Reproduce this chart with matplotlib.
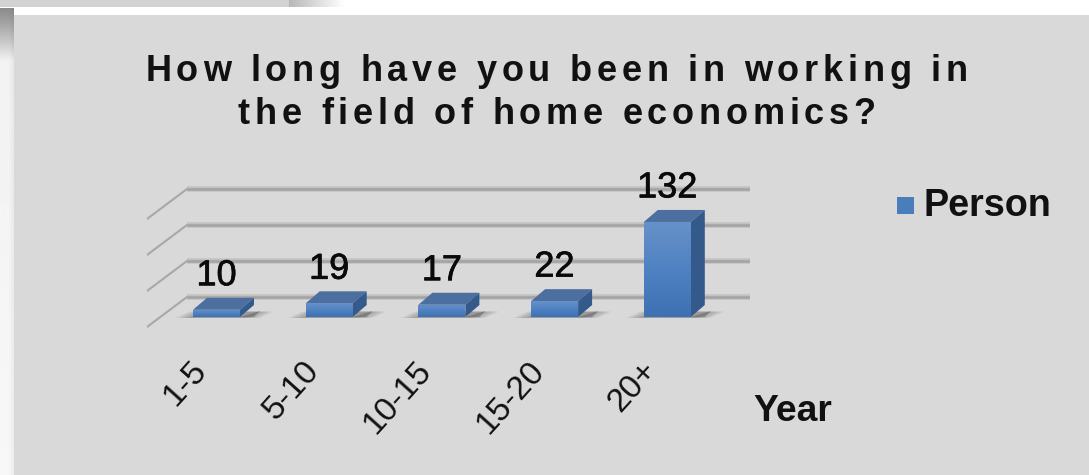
import numpy as np
import matplotlib
matplotlib.use('Agg')
import matplotlib.pyplot as plt
import matplotlib.patheffects as pe
from matplotlib.patches import Polygon, Rectangle
from matplotlib.transforms import ScaledTranslation

plt.rcParams['font.family'] = ['Liberation Sans', 'DejaVu Sans']

categories = ['1-5', '5-10', '10-15', '15-20', '20+']
persons = [10, 19, 17, 22, 132]
grid_values = [0, 50, 100, 150]
title_lines = ['How long have you been in working in', 'the field of home economics?']

W, H = 1089, 475
fig = plt.figure(figsize=(W / 100, H / 100), dpi=100, facecolor='white')

# page furniture in pixel coords
bg = fig.add_axes([0, 0, 1, 1])
bg.set_xlim(0, W)
bg.set_ylim(H, 0)
bg.axis('off')
bg.add_patch(Rectangle((14, 15), W - 14, H - 15, fc='#d9d9d9', ec='none'))
bg.add_patch(Rectangle((0, 0), 289, 7, fc='#d2d2d2', ec='none'))
top_fade = np.linspace(0.72, 1, 64).reshape(1, -1)
bg.imshow(top_fade, extent=(289, 345, 7, 0), cmap='gray', vmin=0, vmax=1, aspect='auto')
rows = np.interp(np.linspace(8, 475, 234), [8, 25, 45, 60, 475], [0.55, 0.66, 0.82, 0.95, 0.97])
cols = np.interp(np.linspace(0, 14, 15), [0, 9, 14], [1.0, 1.0, 0.955])
bg.imshow(np.outer(rows, cols), extent=(0, 14, 475, 8), cmap='gray', vmin=0, vmax=1, aspect='auto')
bg.set_xlim(0, W)
bg.set_ylim(H, 0)


def spaced_text(line, y, size, gap):
    # matplotlib has no letter spacing, so place the characters one at a time
    r = fig.canvas.get_renderer()
    widths = []
    for i in range(len(line)):
        t = bg.text(0, 0, line[:i + 1] + '|', fontsize=size, fontweight='bold')
        widths.append(t.get_window_extent(r).width)
        t.remove()
    t = bg.text(0, 0, '|', fontsize=size, fontweight='bold')
    bar_w = t.get_window_extent(r).width
    t.remove()
    ends = [w - bar_w for w in widths]
    total = ends[-1] + gap * (len(line) - 1)
    x0 = 556.5 - total / 2
    for i, ch in enumerate(line):
        start = ends[i - 1] if i else 0
        bg.text(x0 + start + gap * i, y, ch, fontsize=size, fontweight='bold',
                color='#111111', ha='left', va='baseline')


spaced_text(title_lines[0], 81, 26, 4.75)
spaced_text(title_lines[1], 124, 26, 4.75)

bg.add_patch(Rectangle((897, 197), 17, 17, fc='#4a7ebb', ec='none'))
bg.text(923, 216, 'Person', fontsize=27.2, fontweight='bold', color='#111111', ha='left', va='baseline')
bg.text(753, 421, 'Year', fontsize=26.8, fontweight='bold', color='#111111', ha='left', va='baseline')

# chart axes, 3d look is faked with offsets from the front faces
px_left, px_right, px_top, px_bottom = 147, 750, 170, 340
ax = fig.add_axes([px_left / W, 1 - px_bottom / H, (px_right - px_left) / W, (px_bottom - px_top) / H])
ax.patch.set_alpha(0)
step = 112.7
per_value = 0.72
xlim = ((px_left - 216.5) / step, (px_right - 216.5) / step)
ylim = ((317 - px_bottom) / per_value, (317 - px_top) / per_value)
x = np.arange(len(categories))
bar_w = 47 / step
dx_bar = 14 / step
dy_bar = 12 / per_value
dy_back = 20 / per_value
dx_wall = 40 / step
dy_wall = 30 / per_value

for v in grid_values:
    yb = v + dy_back
    ax.plot([xlim[0] + dx_wall, xlim[1]], [yb, yb], color='#c2c2c2', lw=4, solid_capstyle='butt', zorder=1)
    ax.plot([xlim[0] + dx_wall, xlim[1]], [yb, yb], color='#a3a3a3', lw=1.8, solid_capstyle='butt', zorder=1)
    ax.plot([xlim[0], xlim[0] + dx_wall], [yb - dy_wall, yb], color='#a8a8a8', lw=1.5, zorder=1)

# soft shadows, darker towards the right of each bar
for xi in x:
    for k in range(9):
        g = (9 - k) * 2.0
        ax.add_patch(Polygon([(xi - bar_w / 2 - g / step, -1 / per_value),
                              (xi + bar_w / 2 + (g + 2) / step, -1 / per_value),
                              (xi + bar_w / 2 + dx_bar + (g + 2) / step, dy_bar * 0.45),
                              (xi - bar_w / 2 + dx_bar - g / step, dy_bar * 0.45)],
                             fc='#505050', ec='none', alpha=0.06, zorder=2))
    ax.add_patch(Polygon([(xi + bar_w / 2, 0), (xi + bar_w / 2 + 14 / step, 0),
                          (xi + bar_w / 2 + dx_bar + 6 / step, dy_bar * 0.5)],
                         fc='#555555', ec='none', alpha=0.45, zorder=3))

grad = np.linspace(0, 1, 64).reshape(-1, 1)
cmap = matplotlib.colors.LinearSegmentedColormap.from_list('barfill', ['#3d71b3', '#4f82c2', '#6791c9'])
bars = ax.bar(x, persons, width=bar_w, color='#4a7ebb', zorder=4)
for b, xi, v in zip(bars, x, persons):
    left = xi - bar_w / 2
    right = xi + bar_w / 2
    ax.add_patch(Polygon([(left, v), (right, v), (right + dx_bar, v + dy_bar), (left + dx_bar, v + dy_bar)],
                         fc='#4c6f9f', ec='none', zorder=5))
    ax.add_patch(Polygon([(right, 0), (right + dx_bar, dy_bar), (right + dx_bar, v + dy_bar), (right, v)],
                         fc='#345a8c', ec='none', zorder=5))
    im = ax.imshow(grad, extent=(left, right, 0, v), origin='lower', cmap=cmap, aspect='auto', zorder=5)
    im.set_clip_path(b)
    ax.annotate(str(v), (xi, v), xytext=(0, 24.5), textcoords='offset points', ha='center', va='center',
                fontsize=26, color='#0a0a0a', zorder=6,
                path_effects=[pe.withStroke(linewidth=0.5, foreground='#0a0a0a')])

ax.set_xlim(xlim)
ax.set_ylim(ylim)
ax.set_yticks([])
ax.set_xticks(x)
ax.set_xticklabels(categories, rotation=48, ha='right', rotation_mode='anchor', fontsize=24, color='#111111')
ax.tick_params(axis='x', length=0, pad=11)
shift = ScaledTranslation(-27 / 100, 0, fig.dpi_scale_trans)
for lab in ax.get_xticklabels():
    lab.set_transform(lab.get_transform() + shift)
for s in ax.spines.values():
    s.set_visible(False)

fig.savefig('out.png', dpi=100)
